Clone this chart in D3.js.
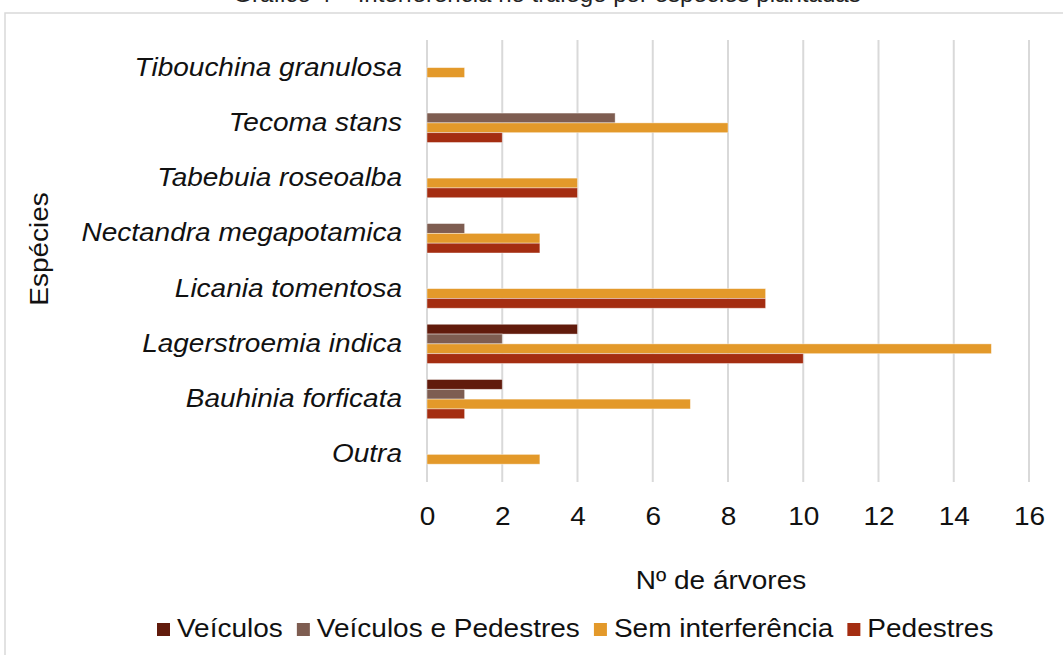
<!DOCTYPE html>
<html>
<head>
<meta charset="utf-8">
<script src="https://cdn.jsdelivr.net/npm/d3@7"></script>
<style>
  body { margin: 0; background: #fff; }
  svg { display: block; font-family: "Liberation Sans", Arial, sans-serif; }
</style>
</head>
<body>
<svg id="chart"></svg>
<script>
const WIDTH = 1063;
const HEIGHT = 655;
const FONT = 25;
const SX = 1.12; // the source text is a bit wider than plain Arial

// Data (top to bottom)
const species = [
    "Tibouchina granulosa",
    "Tecoma stans",
    "Tabebuia roseoalba",
    "Nectandra megapotamica",
    "Licania tomentosa",
    "Lagerstroemia indica",
    "Bauhinia forficata",
    "Outra"
];
const seriesNames = ["Veículos", "Veículos e Pedestres", "Sem interferência", "Pedestres"];
const seriesColors = ["#611b0c", "#7e5d51", "#e3992a", "#a42d11"];

const veiculos        = [0, 0, 0, 0, 0, 4, 2, 0];
const veiculosPedestr = [0, 5, 0, 1, 0, 2, 1, 0];
const semInterferencia = [1, 8, 4, 3, 9, 15, 7, 3];
const pedestres       = [0, 2, 4, 3, 9, 10, 1, 0];

const xTicks = [0, 2, 4, 6, 8, 10, 12, 14, 16];

const seriesValues = [veiculos, veiculosPedestr, semInterferencia, pedestres];

const svg = d3.select("#chart")
    .attr("width", WIDTH)
    .attr("height", HEIGHT);

// move x/y into a transform so the text can be widened around its anchor
function stretch(sel, extra = "") {
    sel.each(function () {
        const t = d3.select(this);
        const tx = +t.attr("x") || 0;
        const ty = +t.attr("y") || 0;
        t.attr("x", 0).attr("y", 0)
            .attr("transform", `translate(${tx},${ty}) ${extra} scale(${SX},1)`);
    });
}

// chart frame (partly outside the picture)
svg.append("rect")
    .attr("x", 5).attr("y", 13)
    .attr("width", WIDTH + 20).attr("height", HEIGHT + 20)
    .attr("fill", "none")
    .attr("stroke", "#d9d9d9")
    .attr("stroke-width", 1.5);

// title, cut at the top edge like in the source
svg.append("text")
    .attr("x", 547)
    .attr("y", 2)
    .attr("text-anchor", "middle")
    .attr("font-size", 21.5)
    .attr("fill", "#222")
    .text("Gráfico 4 – Interferência no tráfego por espécies plantadas")
    .call(stretch);

const plot = { left: 427, right: 1029, top: 40, bottom: 482 };

const x = d3.scaleLinear()
    .domain([0, 16])
    .range([plot.left, plot.right]);

const y = d3.scaleBand()
    .domain(species)
    .range([plot.top, plot.bottom])
    .paddingInner(0.29)
    .paddingOuter(0.145);

const ySub = d3.scaleBand()
    .domain(d3.range(seriesNames.length))
    .range([0, y.bandwidth()]);

// gridlines
svg.append("g")
    .selectAll("line")
    .data(xTicks)
    .join("line")
    .attr("x1", d => x(d)).attr("x2", d => x(d))
    .attr("y1", plot.top).attr("y2", plot.bottom)
    .attr("stroke", "#d9d9d9")
    .attr("stroke-width", 2);

// bars
const rows = [];
species.forEach((sp, i) => {
    seriesValues.forEach((vals, s) => {
        if (vals[i] > 0) rows.push({ sp, s, v: vals[i] });
    });
});

svg.append("g")
    .selectAll("rect")
    .data(rows)
    .join("rect")
    .attr("x", x(0))
    .attr("y", d => y(d.sp) + ySub(d.s))
    .attr("width", d => x(d.v) - x(0))
    .attr("height", ySub.bandwidth())
    .attr("fill", d => seriesColors[d.s])
    .attr("stroke", "#fff")
    .attr("stroke-opacity", 0.5)
    .attr("stroke-width", 0.8);

// x axis labels
const xAxis = svg.append("g")
    .attr("transform", `translate(0,${plot.bottom})`)
    .call(d3.axisBottom(x).tickValues(xTicks).tickSize(0).tickPadding(25));
xAxis.select(".domain").remove();
xAxis.selectAll("text")
    .attr("font-size", FONT)
    .attr("font-family", "Liberation Sans, Arial, sans-serif")
    .attr("fill", "#111")
    .call(stretch);

// y axis labels
const yAxis = svg.append("g")
    .attr("transform", `translate(${plot.left},0)`)
    .call(d3.axisLeft(y).tickSize(0).tickPadding(25));
yAxis.select(".domain").remove();
yAxis.selectAll("text")
    .attr("font-size", FONT)
    .attr("font-style", "italic")
    .attr("font-family", "Liberation Sans, Arial, sans-serif")
    .attr("fill", "#111")
    .call(stretch);

// axis titles
svg.append("text")
    .attr("x", 721)
    .attr("y", 589)
    .attr("text-anchor", "middle")
    .attr("font-size", FONT)
    .attr("fill", "#111")
    .text("Nº de árvores")
    .call(stretch);

svg.append("text")
    .attr("x", 48)
    .attr("y", 249)
    .attr("text-anchor", "middle")
    .attr("font-size", FONT)
    .attr("fill", "#111")
    .text("Espécies")
    .call(stretch, "rotate(-90)");

// legend
const legend = svg.append("g").attr("transform", "translate(157,623)");
let lx = 0;
seriesNames.forEach((name, i) => {
    const g = legend.append("g").attr("transform", `translate(${lx},0)`);
    g.append("rect")
        .attr("x", 0).attr("y", 0)
        .attr("width", 13).attr("height", 13)
        .attr("fill", seriesColors[i]);
    const t = g.append("text")
        .attr("x", 20)
        .attr("y", 14)
        .attr("font-size", FONT)
        .attr("fill", "#111")
        .text(name);
    const w = t.node().getComputedTextLength() * SX;
    t.call(stretch);
    lx += 20 + w + 14;
});
</script>
</body>
</html>
